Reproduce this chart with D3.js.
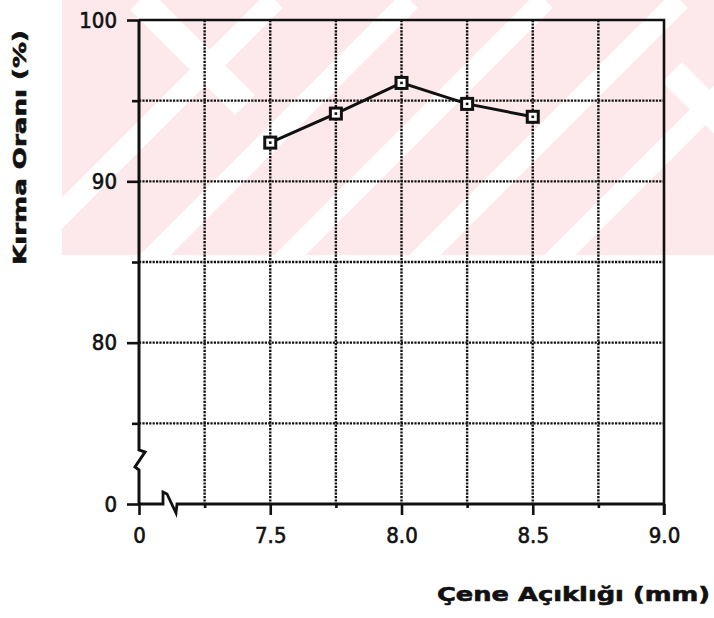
<!DOCTYPE html>
<html>
<head>
<meta charset="utf-8">
<script src="https://cdn.jsdelivr.net/npm/d3@7"></script>
<style>
  body { margin: 0; background: #fff; }
  svg { display: block; }
</style>
</head>
<body>
<svg id="chart" width="714" height="618"></svg>
<script>
// Crushing ratio versus jaw opening
const jawOpening = [7.5, 7.75, 8.0, 8.25, 8.5];
const crushRatio = [92.4, 94.2, 96.1, 94.8, 94.0];

const xTicks = [7.0, 7.5, 8.0, 8.5, 9.0];
const xTickLabels = ["0", "7.5", "8.0", "8.5", "9.0"];
const xMinorTicks = [7.25, 7.75, 8.25, 8.75];
const xGrid = [7.25, 7.5, 7.75, 8.0, 8.25, 8.5, 8.75];

const yTicks = [70, 80, 90, 100];
const yTickLabels = ["0", "80", "90", "100"];
const yMinorTicks = [75, 85, 95];
const yGrid = [75, 80, 85, 90, 95];

const xTitle = "Çene Açıklığı (mm)";
const yTitle = "Kırma Oranı (%)";

const W = 714, H = 618;
const svg = d3.select("#chart");

const x = d3.scaleLinear().domain([7, 9]).range([139, 664]);
const y = d3.scaleLinear().domain([70, 100]).range([504, 20]);

// ---- background stripes (light pink diagonal bands) ----
const bg = svg.append("g");
bg.append("clipPath").attr("id", "bandClip")
  .append("rect").attr("x", 62).attr("y", 0).attr("width", W - 62).attr("height", 255);
const bands = bg.append("g").attr("clip-path", "url(#bandClip)");
bands.append("rect").attr("x", 0).attr("y", 0).attr("width", W).attr("height", 255)
  .attr("fill", "#fde9ec");
// rising bands
[275, 410, 545, 680, 815].forEach(c => {
  bands.append("line")
    .attr("x1", c).attr("y1", 0).attr("x2", c - 300).attr("y2", 300)
    .attr("stroke", "#fff").attr("stroke-width", 22);
});
// falling bands
[[140, 0, 245, 105], [672, 72, 760, 160]].forEach(s => {
  bands.append("line")
    .attr("x1", s[0]).attr("y1", s[1]).attr("x2", s[2]).attr("y2", s[3])
    .attr("stroke", "#fff").attr("stroke-width", 28);
});

// ---- dotted grid ----
const grid = svg.append("g")
  .attr("stroke", "#111").attr("stroke-width", 2.4)
  .attr("stroke-dasharray", "2.2,1.2");
grid.selectAll(".gx").data(xGrid).join("line")
  .attr("x1", d => x(d)).attr("x2", d => x(d))
  .attr("y1", y(100)).attr("y2", y(70));
grid.selectAll(".gy").data(yGrid).join("line")
  .attr("x1", x(7)).attr("x2", x(9))
  .attr("y1", d => y(d)).attr("y2", d => y(d));

// ---- axes ----
const tickFont = "'DejaVu Sans Condensed', 'DejaVu Sans', sans-serif";

const xAxis = svg.append("g").attr("transform", `translate(0,${y(70)})`)
  .call(d3.axisBottom(x).tickValues(xTicks)
    .tickFormat((d, i) => xTickLabels[i]).tickSize(11).tickPadding(12));
const xMinor = svg.append("g").attr("transform", `translate(0,${y(70)})`)
  .call(d3.axisBottom(x).tickValues(xMinorTicks).tickFormat("").tickSize(4));

const yAxis = svg.append("g").attr("transform", `translate(${x(7)},0)`)
  .call(d3.axisLeft(y).tickValues(yTicks)
    .tickFormat((d, i) => yTickLabels[i]).tickSize(12).tickPadding(10));
const yMinor = svg.append("g").attr("transform", `translate(${x(7)},0)`)
  .call(d3.axisLeft(y).tickValues(yMinorTicks).tickFormat("").tickSize(7));

[xAxis, xMinor, yAxis, yMinor].forEach(a => {
  a.select(".domain").remove();
  a.selectAll(".tick line").attr("stroke", "#111").attr("stroke-width", 2.6);
  a.selectAll(".tick text")
    .attr("fill", "#111")
    .attr("stroke", "#111").attr("stroke-width", 0.6)
    .style("font-family", tickFont)
    .style("font-size", "22px");
});

// frame with broken axes
const frame = svg.append("g").attr("fill", "none").attr("stroke", "#111")
  .attr("stroke-linejoin", "miter");
frame.append("path").attr("stroke-width", 2.6)
  .attr("d", `M${x(7)},${y(100)} H${x(9)} V${y(70) + 11}`);
frame.append("path").attr("stroke-width", 3)
  .attr("d", `M${x(7)},${y(100)} V${y(70) - 54} L${x(7) + 6},${y(70) - 52} L${x(7) - 4},${y(70) - 37} L${x(7)},${y(70) - 34} V${y(70)}`);
frame.append("path").attr("stroke-width", 2.8)
  .attr("d", `M${x(7)},${y(70)} H${x(7) + 24} V${y(70) - 12} L${x(7) + 28},${y(70) - 10} L${x(7) + 37},${y(70) + 9} L${x(7) + 38},${y(70)} H${x(9)}`);

// ---- series ----
const pts = jawOpening.map((v, i) => [v, crushRatio[i]]);
svg.append("path").datum(pts)
  .attr("fill", "none").attr("stroke", "#111").attr("stroke-width", 3)
  .attr("d", d3.line().x(d => x(d[0])).y(d => y(d[1])));

const marks = svg.append("g").selectAll("g").data(pts).join("g")
  .attr("transform", d => `translate(${x(d[0])},${y(d[1])})`);
marks.append("rect").attr("x", -5.5).attr("y", -5.5).attr("width", 11).attr("height", 11)
  .attr("fill", "#fff").attr("stroke", "#111").attr("stroke-width", 3);
marks.append("rect").attr("x", -1.3).attr("y", -1.3).attr("width", 2.6).attr("height", 2.6)
  .attr("fill", "#111");

// ---- titles ----
const titleFont = "'DejaVu Sans', sans-serif";
svg.append("text")
  .attr("x", 437).attr("y", 601)
  .attr("textLength", 273).attr("lengthAdjust", "spacingAndGlyphs")
  .style("font-family", titleFont).style("font-weight", "bold").style("font-size", "20px")
  .attr("fill", "#111").attr("stroke", "#111").attr("stroke-width", 0.6)
  .text(xTitle);

svg.append("text")
  .attr("transform", "translate(26,265) rotate(-90)")
  .attr("textLength", 235).attr("lengthAdjust", "spacingAndGlyphs")
  .style("font-family", titleFont).style("font-weight", "bold").style("font-size", "18px")
  .attr("fill", "#111").attr("stroke", "#111").attr("stroke-width", 0.6)
  .text(yTitle);
</script>
</body>
</html>
